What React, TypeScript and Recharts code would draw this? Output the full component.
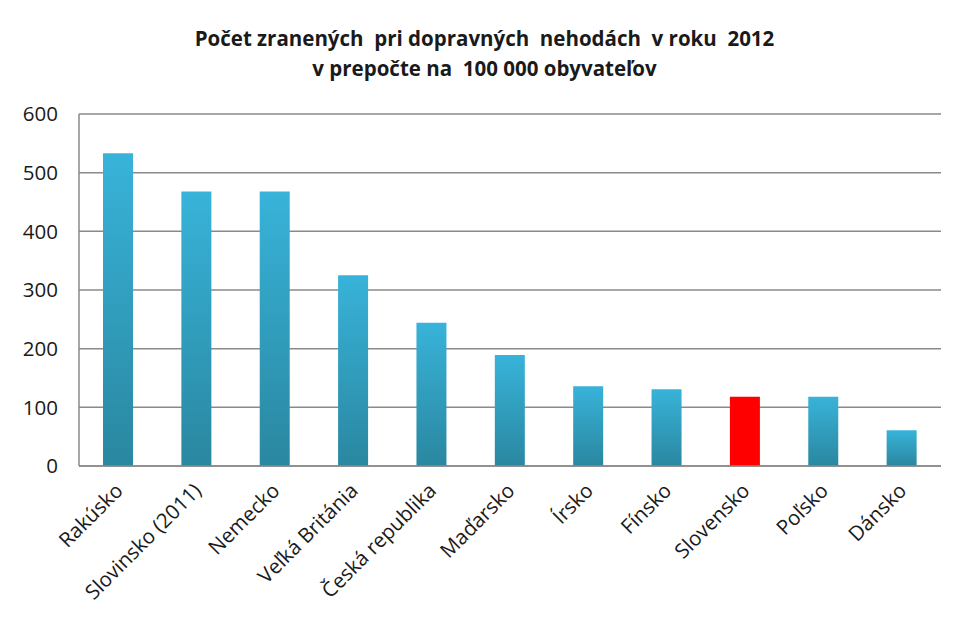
import React from "react";
import { BarChart, Bar, XAxis, YAxis, CartesianGrid, Cell } from "recharts";

const categories = [
  "Rakúsko",
  "Slovinsko (2011)",
  "Nemecko",
  "Veľká Británia",
  "Česká republika",
  "Maďarsko",
  "Írsko",
  "Fínsko",
  "Slovensko",
  "Poľsko",
  "Dánsko",
];
const values = [533, 468, 468, 325, 244, 189, 136, 131, 118, 118, 61];
const highlight = "Slovensko";
const yTicks = [0, 100, 200, 300, 400, 500, 600];

const data = categories.map((name, i) => ({ name, value: values[i] }));

const FONT = "'Open Sans', 'Noto Sans', sans-serif";

const XTick = (props: any) => {
  const { x, y, payload } = props;
  const ax = x + 6;
  const ay = y + 18;
  return (
    <text
      x={ax}
      y={ay}
      textAnchor="end"
      transform={`rotate(-45, ${ax}, ${ay})`}
      fontFamily={FONT}
      fontSize={20.5}
      fill="#1a1a1a"
    >
      {payload.value}
    </text>
  );
};

export default function App() {
  return (
    <div style={{ position: "relative", width: 953, height: 625, background: "#fff" }}>
      <div
        style={{
          position: "absolute",
          top: 15,
          left: 0,
          width: 953,
          textAlign: "center",
          fontFamily: FONT,
          fontWeight: 700,
          fontSize: 20.5,
          lineHeight: "30px",
          color: "#1a1a1a",
          whiteSpace: "pre",
        }}
      >
        {"Počet zranených  pri dopravných  nehodách  v roku  2012\nv prepočte na  100 000 obyvateľov"}
      </div>
      <BarChart
        width={953}
        height={625}
        data={data}
        margin={{ top: 106, right: 20, left: 0, bottom: 0 }}
        barSize={30}
      >
        <defs>
          <linearGradient id="blueGrad" x1="0" y1="0" x2="0" y2="1">
            <stop offset="0%" stopColor="#38b3d9" />
            <stop offset="100%" stopColor="#2a87a0" />
          </linearGradient>
        </defs>
        <CartesianGrid vertical={false} stroke="#8a8a8a" strokeWidth={1.5} />
        <XAxis
          dataKey="name"
          axisLine={{ stroke: "#8a8a8a", strokeWidth: 1.5 }}
          tickLine={false}
          interval={0}
          height={167}
          tick={<XTick />}
        />
        <YAxis
          domain={[0, 600]}
          ticks={yTicks}
          width={71}
          axisLine={{ stroke: "#8a8a8a", strokeWidth: 1.5 }}
          tickLine={false}
          tickSize={0}
          tickMargin={21}
          tick={{ fontFamily: FONT, fontSize: 20.5, fill: "#1a1a1a" }}
        />
        <Bar dataKey="value" isAnimationActive={false}>
          {data.map((d) => (
            <Cell key={d.name} fill={d.name === highlight ? "#ff0000" : "url(#blueGrad)"} />
          ))}
        </Bar>
      </BarChart>
    </div>
  );
}
